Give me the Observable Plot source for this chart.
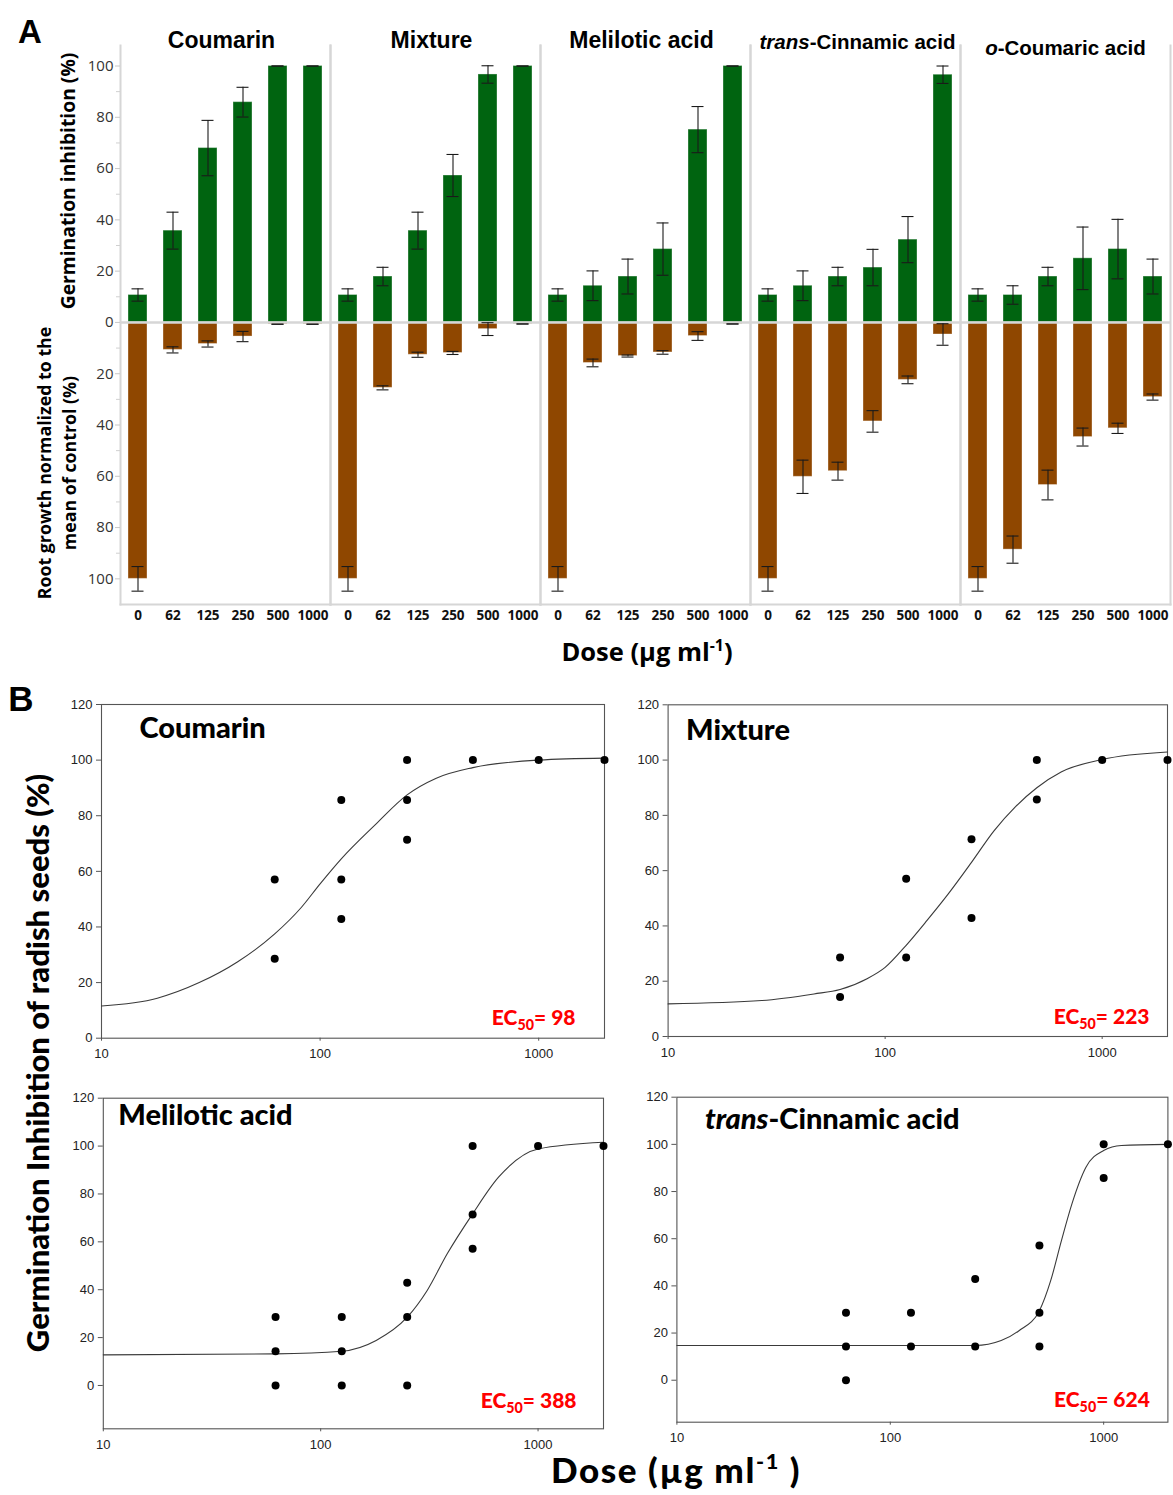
<!DOCTYPE html>
<html><head><meta charset="utf-8">
<script src="https://cdn.jsdelivr.net/npm/d3@7"></script>
<script src="https://cdn.jsdelivr.net/npm/@observablehq/plot@0.6"></script>
<style>
body{margin:0;background:#fff;}
#root{position:relative;width:1173px;height:1495px;overflow:hidden;background:#fff;}
.box{position:absolute;}
.lbl{position:absolute;white-space:nowrap;transform:translate(-50%,-50%);line-height:1;color:#000;}
.rot{transform:translate(-50%,-50%) rotate(-90deg);}
.sup{font-size:0.62em;position:relative;top:-0.65em;}
</style></head><body><div id="root"></div>
<script>
// ---------- Panel A data ----------
const compounds = ["Coumarin", "Mixture", "Melilotic acid", "trans-Cinnamic acid", "o-Coumaric acid"];
const doses = ["0", "62", "125", "250", "500", "1000"];
const germMean = [
  [10.7, 35.8, 68.0, 85.9, 100, 100],
  [10.7, 17.9, 35.8, 57.3, 96.7, 100],
  [10.7, 14.3, 17.9, 28.6, 75.2, 100],
  [10.7, 14.3, 17.9, 21.4, 32.3, 96.6],
  [10.7, 10.7, 17.9, 25.0, 28.6, 17.9]
];
const germErr = [
  [2.4, 7.2, 10.8, 5.8, 0, 0],
  [2.4, 3.6, 7.2, 8.2, 3.4, 0],
  [2.4, 5.8, 6.8, 10.2, 9.0, 0],
  [2.4, 5.8, 3.6, 7.1, 9.0, 3.4],
  [2.4, 3.6, 3.6, 12.2, 11.6, 6.8]
];
const rootMean = [
  [100, 10.7, 8.4, 5.5, 0.7, 0.7],
  [100, 25.5, 12.6, 11.9, 2.6, 0.6],
  [100, 15.8, 13.1, 11.7, 5.3, 0.6],
  [100, 60.2, 58.0, 38.6, 22.4, 4.7],
  [100, 88.6, 63.4, 44.7, 41.3, 29.1]
];
const rootErr = [
  [4.8, 1.2, 1.2, 2.0, 0, 0],
  [4.8, 0.8, 1.0, 0.6, 2.5, 0],
  [4.8, 1.5, 0.4, 0.7, 1.7, 0],
  [4.8, 6.5, 3.5, 4.2, 1.5, 4.2],
  [4.8, 5.3, 5.8, 3.5, 2.0, 1.2]
];
const yTicksA = [-100, -80, -60, -40, -20, 0, 20, 40, 60, 80, 100];
const yMinorA = [-90, -70, -50, -30, -10, 10, 30, 50, 70, 90];

// ---------- Panel B data ----------
const coumarinPts = [[62,57.1],[62,28.6],[125,85.7],[125,57.1],[125,42.9],[250,100],[250,85.7],[250,71.4],[500,100],[1000,100],[2000,100]];
const mixturePts = [[62,28.6],[62,14.3],[125,57.1],[125,28.6],[250,71.4],[250,42.9],[500,100],[500,85.7],[1000,100],[2000,100]];
const melilotPts = [[62,28.6],[62,14.3],[62,0],[125,28.6],[125,14.3],[125,0],[250,42.9],[250,28.6],[250,0],[500,100],[500,71.4],[500,57.1],[1000,100],[2000,100]];
const cinnamPts = [[62,28.6],[62,14.3],[62,0],[125,28.6],[125,14.3],[250,42.9],[250,14.3],[500,57.1],[500,28.6],[500,14.3],[1000,100],[1000,85.7],[2000,100]];
const coumarinFit = [[10,11.6],[18,14.4],[28,20],[42,27.5],[62,37.5],[82,47],[100,55.5],[125,64.5],[180,77],[250,87.5],[340,93.5],[500,97.3],[1000,100],[2000,100.7]];
const mixtureFit = [[10,11.8],[27,13],[47,15.4],[62,17],[83,21],[100,25],[125,33],[156,42],[195,51.5],[250,63],[318,74.5],[397,83],[500,90],[647,95.7],[1000,100.2],[2000,102.9]];
const melilotFit = [[10,12.8],[62,13.2],[125,14.3],[180,18.8],[250,28.5],[309,39.7],[382,55],[500,71.7],[658,87],[1000,98.8],[2000,101.6]];
const cinnamFit = [[10,14.7],[250,14.7],[331,16.8],[401,21],[500,29.5],[565,42.3],[634,59.2],[710,74.8],[826,90.3],[1000,97.4],[1210,99.5],[2000,100]];
const ec50 = [98, 223, 388, 624];
const bTitles = ["Coumarin", "Mixture", "Melilotic acid", "trans-Cinnamic acid"];
const xTicksB = [10, 100, 1000];
const yTicksB = [0, 20, 40, 60, 80, 100, 120];

// ---------- helpers ----------
const root = document.getElementById("root");
function place(node, left, top) {
  const d = document.createElement("div");
  d.className = "box"; d.style.left = left + "px"; d.style.top = top + "px";
  d.appendChild(node); root.appendChild(d);
}
function label(html, cx, cy, css, rot) {
  const d = document.createElement("div");
  d.className = "lbl" + (rot ? " rot" : "");
  d.style.left = cx + "px"; d.style.top = cy + "px";
  d.style.cssText += css;
  d.innerHTML = html; root.appendChild(d);
}
function richText(svg) {
  d3.select(svg).selectAll("text").each(function () {
    const t = this.textContent; const s = d3.select(this); let m;
    if ((m = t.match(/^(trans|o)(-.+)$/))) {
      s.text(null);
      s.append("tspan").attr("font-style", "italic").text(m[1]);
      s.append("tspan").text(m[2]);
    } else if ((m = t.match(/^EC50(.*)$/))) {
      s.text(null);
      s.append("tspan").text("EC");
      s.append("tspan").attr("font-size", "0.68em").attr("dy", 5).text("50");
      s.append("tspan").attr("dy", -5).text(m[1]);
    }
  });
}

// ---------- Panel A ----------
const rowsG = [], rowsR = [];
compounds.forEach((c, i) => doses.forEach((d, j) => {
  rowsG.push({c, d, v: germMean[i][j], e: germErr[i][j]});
  rowsR.push({c, d, v: -rootMean[i][j], e: rootErr[i][j]});
}));
const errMarks = (rows) => [
  Plot.ruleX(rows, {fx: "c", x: "d", y1: r => r.v - r.e, y2: r => r.v + r.e, stroke: "#1a1a1a", strokeWidth: 1.1}),
  Plot.tickY(rows, {fx: "c", x: "d", y: r => r.v + r.e, inset: 3.5, stroke: "#1a1a1a", strokeWidth: 1.1}),
  Plot.tickY(rows, {fx: "c", x: "d", y: r => r.v - r.e, inset: 3.5, stroke: "#1a1a1a", strokeWidth: 1.1})
];
const gray = "#d6d6d6";
const plotA = Plot.plot({
  width: 1173, height: 630,
  marginLeft: 118, marginRight: 2, marginTop: 45, marginBottom: 26,
  fx: {domain: compounds, padding: 0, axis: null},
  x: {domain: doses, paddingInner: 0.45, paddingOuter: 0.225},
  y: {domain: [-110, 108]},
  style: {fontFamily: "'Open Sans', sans-serif", background: "white", color: "#000"},
  marks: [
    Plot.frame({anchor: "left", stroke: gray, strokeWidth: 2}),
    Plot.frame({anchor: "right", stroke: gray, strokeWidth: 2}),
    Plot.frame({anchor: "bottom", stroke: gray, strokeWidth: 2}),
    Plot.barY(rowsG, {fx: "c", x: "d", y1: 0, y2: "v", fill: "#006410", stroke: "#ffffff", strokeOpacity: 0.35, strokeWidth: 1}),
    Plot.barY(rowsR, {fx: "c", x: "d", y1: 0, y2: "v", fill: "#8f4700", stroke: "#ffffff", strokeOpacity: 0.35, strokeWidth: 1}),
    Plot.ruleY([0], {stroke: gray, strokeWidth: 2.5}),
    ...errMarks(rowsG),
    ...errMarks(rowsR),
    Plot.axisY({ticks: yTicksA, tickFormat: d => Math.abs(d), tickSize: 5, tickPadding: 2, stroke: "#c8c8c8", fill: "#333", fontSize: 15, label: null}),
    Plot.axisY({ticks: yMinorA, tickFormat: () => "", tickSize: 4, stroke: "#d0d0d0", label: null}),
    Plot.axisX({tickSize: 0, tickPadding: 6, fontSize: 13.5, fontWeight: "bold", fill: "#111", label: null}),
    Plot.text(compounds.slice(0, 3), {fx: d => d, text: d => d, frameAnchor: "top", lineAnchor: "middle", dx: -4, dy: -5, fontSize: 23, fontWeight: "bold", fontFamily: "'Liberation Sans', Arial, sans-serif"}),
    Plot.text(compounds.slice(3, 4), {fx: d => d, text: d => d, frameAnchor: "top", lineAnchor: "middle", dx: 2, dy: -3, fontSize: 20.5, fontWeight: "bold", fontFamily: "'Liberation Sans', Arial, sans-serif"}),
    Plot.text(compounds.slice(4, 5), {fx: d => d, text: d => d, frameAnchor: "top", lineAnchor: "middle", dy: 3, fontSize: 20.5, fontWeight: "bold", fontFamily: "'Liberation Sans', Arial, sans-serif"})
  ]
});
richText(plotA);
place(plotA, 0, 0);

// ---------- Panel B ----------
function panelB({pts, fit, ec, title, width, height, ml, mr, mt, mb, ydomain, tdx, tdy, edx, edy}) {
  const p = Plot.plot({
    width, height, marginLeft: ml, marginRight: mr, marginTop: mt, marginBottom: mb,
    x: {type: "log", domain: [10, 2000]},
    y: {domain: ydomain},
    style: {fontFamily: "'Liberation Sans', Arial, sans-serif", background: "transparent", color: "#000", overflow: "visible"},
    marks: [
      Plot.frame({stroke: "#555", strokeWidth: 1.1}),
      Plot.axisX({ticks: xTicksB, tickFormat: d => String(d), tickSize: 3, tickPadding: 8, fontSize: 13, fill: "#222", stroke: "#555", label: null}),
      Plot.axisY({ticks: yTicksB, tickSize: 5, tickPadding: 4, fontSize: 13, fill: "#222", stroke: "#555", label: null}),
      Plot.line(fit, {x: d => d[0], y: d => d[1], curve: "monotone-x", stroke: "#3a3a3a", strokeWidth: 1.1}),
      Plot.dot(pts, {x: d => d[0], y: d => d[1], r: 4, fill: "#000"}),
      Plot.text([title], {text: d => d, frameAnchor: "top-left", textAnchor: "start", lineAnchor: "middle", dx: tdx, dy: tdy, fontSize: 29, fontWeight: 900, fontFamily: "Lato, sans-serif", fill: "#000"}),
      Plot.text([`EC50= ${ec}`], {text: d => d, frameAnchor: "bottom-right", textAnchor: "end", lineAnchor: "middle", dx: edx, dy: edy, fontSize: 21, fontWeight: 900, fontFamily: "Lato, sans-serif", fill: "#ff0000"})
    ]
  });
  richText(p);
  return p;
}
place(panelB({pts: coumarinPts, fit: coumarinFit, ec: ec50[0], title: bTitles[0], width: 615, height: 380, ml: 101, mr: 11, mt: 14, mb: 32.3, ydomain: [0, 120], tdx: 38, tdy: 24, edx: -29, edy: -20}), 0, 690);
place(panelB({pts: mixturePts, fit: mixtureFit, ec: ec50[1], title: bTitles[1], width: 553, height: 380, ml: 47.6, mr: 6, mt: 14.3, mb: 34, ydomain: [0, 120], tdx: 18, tdy: 26, edx: -18, edy: -19}), 620, 690);
place(panelB({pts: melilotPts, fit: melilotFit, ec: ec50[2], title: bTitles[2], width: 615, height: 380, ml: 102.8, mr: 12, mt: 17.7, mb: 31.7, ydomain: [-18.1, 120], tdx: 15, tdy: 18, edx: -27, edy: -28}), 0, 1080);
place(panelB({pts: cinnamPts, fit: cinnamFit, ec: ec50[3], title: bTitles[3], width: 553, height: 380, ml: 56.4, mr: 5.6, mt: 16.7, mb: 38.3, ydomain: [-17.8, 120], tdx: 28, tdy: 23, edx: -18, edy: -22}), 620, 1080);

// ---------- Free labels ----------
label("A", 30, 31, "font-family:'Liberation Sans',Arial;font-weight:bold;font-size:33px;");
label("B", 21, 698, "font-family:'Liberation Sans',Arial;font-weight:bold;font-size:35px;");
label("Germination inhibition (%)", 68, 181, "font-family:'Open Sans';font-weight:700;font-size:19.3px;", true);
label("Root growth normalized to the", 45, 463, "font-family:'Open Sans';font-weight:700;font-size:17.8px;", true);
label("mean of control (%)", 70, 463, "font-family:'Open Sans';font-weight:700;font-size:17.8px;", true);
label("Dose (µg ml<span class='sup'>-1</span>)", 647, 652, "font-family:'Open Sans';font-weight:700;font-size:25.5px;");
label("Germination Inhibition of radish seeds (%)", 37, 1063, "font-family:Lato;font-weight:900;font-size:31px;", true);
label("Dose (µg ml<span class='sup'>-1</span> )", 676, 1469, "font-family:Lato;font-weight:900;font-size:35px;letter-spacing:1.6px;");
</script></body></html>
